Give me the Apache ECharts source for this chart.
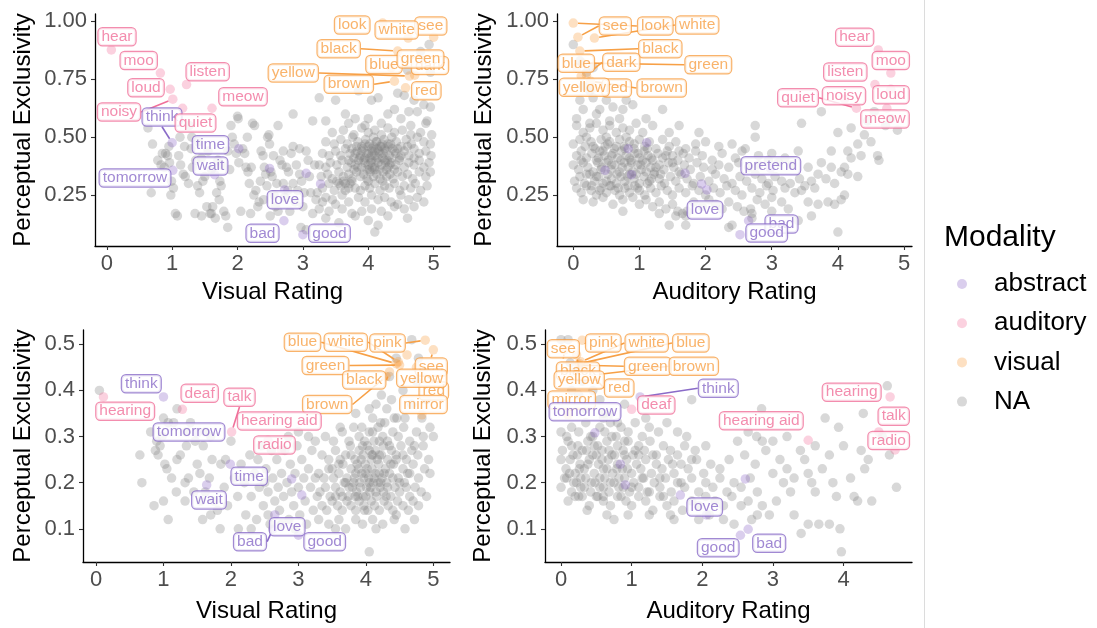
<!DOCTYPE html>
<html>
<head>
<meta charset="utf-8">
<script src="https://cdn.jsdelivr.net/npm/echarts@6/dist/echarts.min.js"></script>
<style>
  html, body { margin: 0; padding: 0; background: #ffffff; }
  #chart { width: 1097px; height: 628px; }
</style>
</head>
<body>
<div id="chart"></div>
<script>
// ---------- data ----------
// words with a modality: [word, visual rating, auditory rating, perceptual exclusivity]
const upperAbstract = [
  ['think', 1.00, 1.11, 0.476], ['time', 2.02, 0.83, 0.450], ['wait', 1.65, 0.88, 0.338],
  ['tomorrow', 1.01, 0.48, 0.357], ['pretend', 2.49, 2.98, 0.365], ['love', 2.72, 2.02, 0.272],
  ['bad', 2.71, 2.65, 0.139], ['good', 3.00, 2.52, 0.079], ['', 3.05, 1.69, 0.344], ['', 3.27, 1.94, 0.298]
];
const upperAuditory = [
  ['hear', 0.07, 4.61, 0.877], ['moo', 0.82, 4.80, 0.777], ['listen', 1.22, 4.56, 0.727],
  ['loud', 0.97, 4.80, 0.707], ['noisy', 1.01, 4.10, 0.664], ['quiet', 1.16, 4.28, 0.625],
  ['meow', 1.61, 4.74, 0.625]
];
const upperVisual = [
  ['look', 4.22, 0.00, 0.993], ['see', 5.00, 0.07, 0.932], ['white', 4.61, 0.32, 0.928],
  ['black', 4.45, 0.10, 0.872], ['blue', 4.35, 0.05, 0.800], ['dark', 4.71, 0.20, 0.768],
  ['green', 4.75, 0.14, 0.820], ['red', 4.57, 0.30, 0.713], ['yellow', 4.63, 0.12, 0.764],
  ['brown', 4.40, 0.26, 0.742]
];
const lowerAbstract = [
  ['think', 1.00, 1.12, 0.386], ['tomorrow', 1.50, 0.48, 0.308], ['time', 1.99, 0.84, 0.240],
  ['wait', 1.64, 0.91, 0.195], ['love', 2.65, 2.06, 0.130], ['bad', 2.62, 2.65, 0.099],
  ['good', 3.00, 2.54, 0.086], ['', 3.05, 1.69, 0.173], ['', 2.90, 2.61, 0.208]
];
const lowerAuditory = [
  ['hearing', 0.11, 4.66, 0.386], ['deaf', 1.28, 1.00, 0.359], ['talk', 2.01, 4.50, 0.310],
  ['hearing aid', 2.55, 3.50, 0.292], ['radio', 2.75, 4.73, 0.271]
];
const lowerVisual = [
  ['pink', 4.88, 0.30, 0.509], ['see', 5.00, 0.05, 0.488], ['white', 4.48, 0.28, 0.462],
  ['blue', 4.45, 0.26, 0.458], ['green', 4.50, 0.25, 0.455], ['red', 4.75, 0.35, 0.450],
  ['black', 4.35, 0.15, 0.440], ['brown', 4.30, 0.27, 0.430], ['yellow', 4.61, 0.22, 0.477],
  ['mirror', 4.83, 0.10, 0.347]
];

// words without a modality: [rating, perceptual exclusivity]
const upperNAVisual = [
  [4.93,0.90],[4.80,0.87],[4.85,0.83],[4.60,0.79],[4.95,0.78],[4.45,0.69],[4.55,0.68],[4.70,0.66],[4.85,0.64],[4.95,0.63],
  [3.25,0.67],[3.50,0.66],[4.05,0.66],[4.15,0.67],[3.85,0.70],[4.40,0.62],[4.62,0.61],[4.75,0.61],[4.30,0.60],[3.65,0.60],
  [3.80,0.58],[2.85,0.60],[3.15,0.57],[3.35,0.57],[4.00,0.58],[4.50,0.58],[4.88,0.56],[3.70,0.56],[3.95,0.55],[4.20,0.56],
  [4.65,0.55],[2.62,0.55],[2.48,0.51],[4.90,0.57],
  [0.63,0.54],[0.70,0.47],[0.68,0.26],[0.83,0.38],[0.85,0.43],[0.90,0.43],[0.93,0.42],[0.96,0.39],[0.99,0.31],[1.02,0.28],
  [0.98,0.25],[1.05,0.17],[1.08,0.16],[1.10,0.42],[1.13,0.38],[1.17,0.34],[1.20,0.33],[1.19,0.46],[1.26,0.55],[1.29,0.45],
  [1.31,0.37],[1.36,0.40],[1.39,0.29],[1.42,0.26],[1.45,0.41],[1.50,0.33],[1.53,0.20],[1.58,0.17],[1.62,0.20],[1.66,0.15],
  [1.68,0.26],[1.70,0.40],[1.73,0.31],[1.75,0.29],[1.79,0.18],[1.82,0.16],[1.85,0.11],[1.90,0.55],[1.92,0.50],[1.95,0.47],
  [1.98,0.43],[2.00,0.59],[2.01,0.58],[1.88,0.36],[1.60,0.36],[1.40,0.48],[1.55,0.44],[0.88,0.37],[1.12,0.50],[1.30,0.50],
  [1.47,0.31],[1.85,0.44],[1.72,0.23],[1.25,0.30],[0.95,0.46],[0.78,0.40],[1.35,0.17],[1.45,0.16],[1.60,0.17],[1.75,0.38],
  [2.02,0.39],[2.05,0.18],[2.08,0.45],[2.11,0.43],[2.13,0.37],[2.16,0.35],[2.18,0.30],[2.21,0.37],[2.23,0.56],[2.26,0.55],
  [2.20,0.17],[2.28,0.27],[2.31,0.20],[2.33,0.22],[2.36,0.44],[2.39,0.42],[2.41,0.37],[2.43,0.34],[2.46,0.50],[2.49,0.47],
  [2.51,0.35],[2.53,0.33],[2.56,0.25],[2.58,0.20],[2.60,0.30],[2.65,0.40],[2.68,0.38],[2.70,0.30],[2.72,0.24],[2.75,0.37],
  [2.78,0.35],[2.80,0.18],[2.82,0.43],[2.85,0.46],[2.90,0.38],[2.92,0.27],[2.95,0.34],[2.98,0.31],[2.97,0.11],[3.02,0.26],
  [3.05,0.44],[3.08,0.40],[3.10,0.33],[3.12,0.26],[3.18,0.38],[3.20,0.23],[2.40,0.23],[2.50,0.16],[2.62,0.18],[2.45,0.29],
  [2.70,0.44],[2.88,0.22],[3.00,0.20],[2.35,0.31],[2.55,0.42],[2.95,0.45],[3.15,0.17],[2.25,0.25],[2.15,0.50],[2.85,0.30],
  [3.05,0.10],[2.77,0.27],
  [3.35,0.15],[3.55,0.13],[4.00,0.14],[4.30,0.16],[4.60,0.15],[3.80,0.16],[4.15,0.12],[4.10,0.09],
  [3.25,0.19],[3.40,0.18],[3.60,0.19],[3.75,0.17],[3.90,0.18],[4.05,0.19],[4.20,0.18],[4.40,0.20],[4.55,0.19],[4.70,0.20],
  [3.50,0.21],[3.30,0.22],
  [3.35,0.24],[3.45,0.23],[3.60,0.25],[3.70,0.22],[3.85,0.24],[3.95,0.22],[4.05,0.25],[4.15,0.23],[4.25,0.24],[4.35,0.22],
  [4.50,0.25],[4.62,0.23],[4.75,0.24],[4.85,0.22],[3.22,0.26],[4.45,0.21],
  [3.30,0.28],[3.40,0.30],[3.48,0.27],[3.58,0.29],[3.65,0.27],[3.72,0.30],[3.80,0.28],[3.88,0.27],[3.95,0.29],[4.02,0.28],
  [4.10,0.30],[4.18,0.27],[4.25,0.29],[4.32,0.28],[4.40,0.30],[4.48,0.27],[4.55,0.29],[4.65,0.28],[4.72,0.30],[4.80,0.27],
  [4.90,0.29],[3.62,0.31],[4.00,0.31],[4.22,0.31],
  [3.28,0.33],[3.38,0.34],[3.45,0.32],[3.55,0.35],[3.62,0.33],[3.70,0.34],[3.75,0.32],[3.82,0.35],[3.88,0.33],[3.93,0.34],
  [3.98,0.32],[4.03,0.35],[4.08,0.33],[4.13,0.34],[4.18,0.32],[4.23,0.35],[4.28,0.33],[4.33,0.34],[4.38,0.32],[4.45,0.35],
  [4.52,0.33],[4.60,0.34],[4.68,0.32],[4.78,0.35],[4.88,0.33],[4.95,0.35],[3.52,0.31],[4.10,0.36],
  [3.25,0.38],[3.35,0.37],[3.42,0.39],[3.52,0.38],[3.60,0.40],[3.68,0.37],[3.74,0.39],[3.80,0.38],[3.85,0.40],[3.90,0.37],
  [3.95,0.39],[4.00,0.38],[4.05,0.40],[4.10,0.37],[4.15,0.39],[4.20,0.38],[4.25,0.40],[4.30,0.37],[4.35,0.39],[4.42,0.38],
  [4.48,0.40],[4.55,0.37],[4.62,0.39],[4.70,0.38],[4.78,0.40],[4.85,0.37],[4.93,0.39],[3.78,0.36],[4.02,0.36],[4.28,0.36],
  [3.30,0.43],[3.40,0.42],[3.50,0.44],[3.58,0.42],[3.65,0.45],[3.72,0.43],[3.78,0.41],[3.83,0.44],[3.88,0.42],[3.92,0.45],
  [3.97,0.43],[4.02,0.41],[4.06,0.44],[4.10,0.42],[4.14,0.45],[4.18,0.43],[4.22,0.41],[4.27,0.44],[4.32,0.42],[4.37,0.45],
  [4.42,0.43],[4.48,0.41],[4.55,0.44],[4.62,0.42],[4.70,0.45],[4.78,0.43],[4.88,0.44],[4.96,0.42],[3.95,0.41],[4.20,0.46],
  [3.35,0.48],[3.48,0.47],[3.58,0.49],[3.68,0.47],[3.76,0.50],[3.84,0.48],[3.90,0.46],[3.96,0.49],[4.02,0.47],[4.08,0.50],
  [4.13,0.48],[4.18,0.46],[4.24,0.49],[4.30,0.47],[4.36,0.50],[4.43,0.48],[4.50,0.46],[4.58,0.49],[4.66,0.47],[4.75,0.50],
  [4.85,0.48],[4.95,0.47],[3.82,0.46],[4.05,0.45],
  [3.45,0.52],[3.62,0.53],[3.78,0.51],[3.90,0.54],[4.00,0.52],[4.10,0.53],[4.20,0.51],[4.30,0.54],[4.40,0.52],[4.52,0.53],
  [4.65,0.51],[4.80,0.52],[4.97,0.51],
  [3.87,0.41],[3.93,0.40],[4.00,0.43],[4.04,0.39],[4.08,0.46],[4.12,0.40],[4.16,0.44],[4.21,0.47],[4.26,0.39],[4.31,0.46],
  [4.36,0.41],[4.40,0.36],[3.84,0.37],[3.90,0.44],[3.98,0.36],[4.06,0.37],[4.12,0.48],[4.17,0.36],[4.23,0.43],[4.29,0.40],
  [4.34,0.47],[4.40,0.44],[3.80,0.43],[3.95,0.47],[4.05,0.42],[4.15,0.41],[4.25,0.45],[4.33,0.38],[3.70,0.40],[3.75,0.45],
  [4.45,0.45],[4.50,0.42],[3.65,0.30],[3.70,0.28],[3.75,0.31],[3.55,0.30],[4.60,0.46],[4.70,0.41],[4.10,0.44],[4.00,0.46]
];
const upperNAAuditory = [
  [0.00,0.90],[0.10,0.83],[0.20,0.78],[0.30,0.80],[0.15,0.72],[0.25,0.70],[0.30,0.67],[0.10,0.66],[0.40,0.62],[0.50,0.66],
  [0.05,0.58],[0.15,0.62],[0.35,0.60],[0.60,0.63],[0.70,0.58],[0.75,0.62],[0.80,0.66],[0.90,0.64],[1.10,0.58],[1.35,0.62],
  [0.55,0.57],[0.25,0.56],
  [0.05,0.55],[0.15,0.52],[0.25,0.54],[0.35,0.56],[0.45,0.53],[0.55,0.55],[0.65,0.52],[0.75,0.54],[0.85,0.53],[0.95,0.56],
  [1.05,0.52],[1.20,0.55],[1.45,0.52],[1.60,0.55],[0.20,0.50],[0.50,0.50],[0.80,0.50],[1.90,0.52],
  [0.00,0.47],[0.10,0.49],[0.18,0.46],[0.27,0.48],[0.33,0.45],[0.42,0.49],[0.48,0.46],[0.55,0.48],[0.62,0.45],[0.70,0.49],
  [0.77,0.46],[0.85,0.48],[0.92,0.45],[1.00,0.49],[1.08,0.46],[1.15,0.48],[1.25,0.45],[1.35,0.49],[1.45,0.46],[1.55,0.48],
  [1.70,0.45],[1.85,0.47],[2.00,0.48],[2.20,0.46],[2.40,0.47],[2.60,0.45],[2.75,0.50],
  [0.05,0.42],[0.12,0.44],[0.20,0.41],[0.28,0.43],[0.35,0.40],[0.40,0.44],[0.47,0.42],[0.53,0.40],[0.60,0.43],[0.67,0.41],
  [0.73,0.44],[0.80,0.42],[0.87,0.40],[0.93,0.43],[1.00,0.41],[1.07,0.44],[1.13,0.42],[1.20,0.40],[1.28,0.43],[1.35,0.41],
  [1.42,0.44],[1.50,0.42],[1.58,0.40],[1.66,0.43],[1.75,0.41],[1.85,0.44],[1.95,0.42],[2.10,0.40],[2.25,0.43],[2.45,0.41],
  [2.55,0.44],[2.80,0.42],[3.00,0.43],[3.20,0.41],[3.40,0.44],
  [0.00,0.38],[0.08,0.36],[0.15,0.39],[0.22,0.37],[0.30,0.35],[0.37,0.39],[0.43,0.37],[0.50,0.39],[0.57,0.36],[0.63,0.38],
  [0.70,0.35],[0.77,0.39],[0.83,0.37],[0.90,0.35],[0.97,0.38],[1.03,0.36],[1.10,0.39],[1.17,0.37],[1.23,0.35],[1.30,0.38],
  [1.37,0.36],[1.44,0.39],[1.52,0.37],[1.60,0.35],[1.68,0.38],[1.77,0.36],[1.87,0.39],[1.97,0.37],[2.10,0.36],[2.20,0.38],
  [2.35,0.37],[2.50,0.39],[2.65,0.37],[2.80,0.38],[2.95,0.40],[3.10,0.39],[3.30,0.38],[3.55,0.37],[3.75,0.39],[3.90,0.37],
  [0.02,0.31],[0.10,0.33],[0.17,0.30],[0.25,0.34],[0.32,0.31],[0.38,0.33],[0.45,0.30],[0.52,0.34],[0.58,0.32],[0.65,0.30],
  [0.72,0.33],[0.78,0.31],[0.85,0.34],[0.92,0.32],[1.00,0.30],[1.07,0.33],[1.15,0.31],[1.22,0.34],[1.30,0.32],[1.38,0.30],
  [1.47,0.33],[1.55,0.31],[1.63,0.34],[1.72,0.32],[1.82,0.30],[1.92,0.33],[2.05,0.31],[2.15,0.34],[2.28,0.32],[2.40,0.30],
  [2.52,0.33],[2.62,0.31],[2.75,0.34],[2.85,0.32],[2.95,0.30],[3.05,0.33],[3.15,0.31],[3.28,0.30],[3.42,0.32],[3.50,0.29],
  [3.60,0.31],[3.70,0.34],[3.82,0.32],[3.95,0.30],[4.05,0.35],[4.15,0.34],[4.30,0.33],
  [0.05,0.28],[0.12,0.26],[0.20,0.29],[0.27,0.27],[0.35,0.25],[0.42,0.28],[0.50,0.26],[0.57,0.29],[0.63,0.27],[0.70,0.25],
  [0.78,0.28],[0.85,0.26],[0.93,0.29],[1.00,0.27],[1.08,0.25],[1.17,0.28],[1.25,0.26],[1.33,0.29],[1.42,0.27],[1.50,0.25],
  [1.60,0.28],[1.70,0.26],[1.80,0.29],[1.90,0.27],[2.00,0.25],[2.12,0.28],[2.22,0.26],[2.32,0.29],[2.45,0.27],[2.55,0.25],
  [2.70,0.28],[2.82,0.26],[2.92,0.29],[3.02,0.27],[3.20,0.28],[3.35,0.26],[3.45,0.27],[3.65,0.28],[4.10,0.25],
  [0.15,0.23],[0.30,0.22],[0.45,0.24],[0.60,0.21],[0.75,0.23],[0.90,0.24],[1.00,0.21],[1.10,0.23],[1.20,0.20],[1.30,0.22],
  [1.40,0.19],[1.50,0.21],[1.58,0.18],[1.65,0.17],[1.72,0.18],[1.82,0.22],[1.95,0.20],[2.05,0.23],[2.15,0.21],[2.25,0.19],
  [2.35,0.22],[2.48,0.20],[2.58,0.18],[2.68,0.19],[2.78,0.23],[2.90,0.21],[3.00,0.24],[3.15,0.22],[3.55,0.22],[3.70,0.21],
  [3.85,0.22],[3.95,0.21],[4.05,0.23],[0.75,0.18],[1.30,0.17],[1.70,0.16],[1.55,0.16],
  [1.45,0.12],[1.70,0.12],[2.35,0.11],[2.40,0.12],[2.70,0.17],[2.70,0.15],[3.00,0.18],[3.25,0.19],[3.60,0.16],[4.00,0.09],
  [3.40,0.14],
  [4.00,0.52],[4.20,0.54],[4.30,0.47],[4.40,0.51],[4.50,0.48],[4.60,0.42],[4.62,0.40],[4.35,0.42],[4.20,0.41],[4.90,0.53],
  [4.72,0.55],[4.80,0.58],[3.75,0.61],[3.45,0.56],[2.75,0.55],[3.90,0.44],[4.10,0.37],[4.15,0.44],[4.55,0.61],[4.45,0.57],
  [0.30,0.46],[0.38,0.41],[0.45,0.44],[0.52,0.47],[0.58,0.42],[0.65,0.46],[0.72,0.40],[0.78,0.45],[0.85,0.41],[0.92,0.47],
  [0.98,0.43],[1.05,0.40],[1.12,0.45],[1.18,0.41],[0.35,0.33],[0.42,0.36],[0.50,0.31],[0.58,0.38],[0.66,0.34],[0.74,0.37],
  [0.82,0.33],[0.88,0.39],[0.95,0.34],[1.02,0.38],[1.10,0.35],[1.18,0.32],[1.25,0.37],[1.32,0.34],[0.28,0.29],[0.40,0.27],
  [0.55,0.29],[0.68,0.28],[0.83,0.29],[0.97,0.28],[1.12,0.30],[1.40,0.42],[1.50,0.39],[1.60,0.44],[0.20,0.34],[0.12,0.40]
];
const lowerNAVisual = [
  [0.05,0.40],[0.81,0.31],[0.90,0.29],[1.00,0.34],[1.07,0.33],[1.20,0.36],[1.15,0.33],[0.65,0.26],[0.88,0.27],[0.95,0.28],
  [0.92,0.26],[1.02,0.24],[1.05,0.23],[1.25,0.26],[1.34,0.28],[1.59,0.28],[1.34,0.31],[1.47,0.29],[1.62,0.31],[1.70,0.30],
  [0.68,0.20],[0.86,0.15],[1.00,0.16],[1.07,0.12],[1.32,0.16],[1.19,0.18],[1.32,0.20],[1.54,0.22],[1.58,0.12],[1.70,0.13],
  [1.84,0.10],[2.11,0.10],[1.37,0.21],[1.45,0.18],[1.55,0.16],[1.62,0.18],[1.68,0.21],[1.75,0.16],[1.80,0.14],[1.90,0.19],
  [1.95,0.15],[1.85,0.24],[1.92,0.25],[2.00,0.29],[1.50,0.24],[1.12,0.21],[1.20,0.25],[0.98,0.30],[1.40,0.33],[1.72,0.25],
  [2.05,0.21],[2.10,0.17],[2.15,0.24],[2.20,0.20],[2.22,0.13],[2.28,0.26],[2.30,0.17],[2.35,0.22],[2.38,0.12],[2.42,0.19],
  [2.45,0.28],[2.48,0.15],[2.52,0.23],[2.55,0.18],[2.58,0.11],[2.62,0.21],[2.65,0.16],[2.68,0.25],[2.70,0.19],[2.72,0.14],
  [2.75,0.22],[2.78,0.17],[2.80,0.27],[2.83,0.20],[2.86,0.12],[2.88,0.24],[2.90,0.18],[2.93,0.15],[2.95,0.22],[2.98,0.28],
  [3.00,0.19],[3.02,0.13],[3.05,0.25],[3.08,0.21],[3.10,0.16],[3.12,0.11],[3.15,0.23],[3.18,0.19],[3.20,0.27],[3.22,0.14],
  [3.25,0.21],[3.28,0.17],[2.40,0.25],[2.60,0.27],[2.85,0.30],[3.00,0.31],[2.30,0.10],[2.55,0.13],[2.75,0.11],[3.15,0.30],
  [2.50,0.20],[2.95,0.10],
  [3.30,0.12],[3.45,0.11],[3.60,0.12],[3.70,0.10],[3.85,0.12],[3.95,0.11],[4.05,0.05],[4.10,0.12],[4.25,0.11],[4.42,0.12],
  [4.58,0.10],[4.72,0.12],[3.55,0.10],[4.15,0.10],
  [3.35,0.15],[3.42,0.14],[3.50,0.16],[3.58,0.15],[3.65,0.14],[3.72,0.16],[3.78,0.15],[3.85,0.14],[3.90,0.16],[3.97,0.15],
  [4.03,0.14],[4.08,0.16],[4.13,0.15],[4.20,0.14],[4.27,0.16],[4.33,0.15],[4.40,0.14],[4.47,0.16],[4.55,0.15],[4.63,0.14],
  [4.70,0.16],[4.78,0.15],[4.45,0.13],
  [3.32,0.18],[3.40,0.19],[3.47,0.17],[3.55,0.19],[3.62,0.18],[3.68,0.20],[3.74,0.17],[3.80,0.19],[3.86,0.18],[3.91,0.20],
  [3.96,0.17],[4.01,0.19],[4.06,0.18],[4.11,0.20],[4.16,0.17],[4.21,0.19],[4.26,0.18],[4.31,0.20],[4.37,0.17],[4.43,0.19],
  [4.50,0.18],[4.57,0.20],[4.65,0.17],[4.73,0.19],[4.82,0.18],[4.90,0.17],[3.88,0.17],[4.05,0.20],[4.18,0.20],[3.75,0.19],
  [3.30,0.22],[3.38,0.21],[3.45,0.23],[3.52,0.21],[3.60,0.22],[3.66,0.24],[3.72,0.21],[3.78,0.23],[3.83,0.21],[3.89,0.23],
  [3.94,0.22],[3.99,0.24],[4.04,0.21],[4.09,0.23],[4.14,0.22],[4.19,0.24],[4.24,0.21],[4.29,0.23],[4.35,0.22],[4.41,0.24],
  [4.48,0.21],[4.55,0.23],[4.62,0.22],[4.70,0.24],[4.78,0.21],[4.87,0.23],[4.95,0.22],[4.00,0.22],[4.20,0.22],[3.85,0.22],
  [3.35,0.26],[3.45,0.25],[3.55,0.27],[3.62,0.25],[3.70,0.26],[3.77,0.28],[3.84,0.25],[3.90,0.27],[3.96,0.26],[4.02,0.28],
  [4.08,0.25],[4.14,0.27],[4.20,0.26],[4.26,0.28],[4.32,0.25],[4.38,0.27],[4.45,0.26],[4.52,0.28],[4.60,0.25],[4.68,0.27],
  [4.77,0.26],[4.85,0.28],[4.93,0.25],[4.10,0.26],
  [3.40,0.30],[3.52,0.29],[3.65,0.31],[3.75,0.29],[3.82,0.32],[3.90,0.30],[3.98,0.29],[4.05,0.31],[4.12,0.29],[4.18,0.32],
  [4.25,0.30],[4.32,0.29],[4.40,0.31],[4.48,0.30],[4.56,0.32],[4.65,0.29],[4.75,0.31],[4.85,0.30],[4.95,0.32],[3.25,0.29],
  [4.22,0.33],
  [3.62,0.32],[3.94,0.32],[4.23,0.39],[4.38,0.38],[4.31,0.36],[4.46,0.34],[4.58,0.34],[4.83,0.34],[5.00,0.30],[4.10,0.34],
  [4.68,0.37],[4.15,0.37],[4.55,0.40],[4.90,0.38],[4.05,0.36],[3.85,0.35],[4.75,0.42],[4.35,0.43],[4.68,0.51],[4.78,0.47],
  [4.85,0.44],[4.45,0.47],
  [3.82,0.20],[3.87,0.24],[3.92,0.19],[3.97,0.21],[4.02,0.23],[4.07,0.19],[4.12,0.21],[4.17,0.25],[4.22,0.20],[4.27,0.22],
  [4.32,0.19],[4.37,0.24],[3.84,0.17],[3.93,0.25],[4.00,0.17],[4.09,0.26],[4.15,0.18],[4.23,0.26],[4.30,0.17],[4.40,0.21],
  [3.78,0.26],[3.70,0.20],[3.65,0.17],[3.60,0.24],[4.45,0.25],[4.50,0.20],[4.55,0.26],[4.60,0.19],[3.95,0.28],[4.05,0.27],
  [4.20,0.29],[4.35,0.28],[4.10,0.31],[4.28,0.33],[4.42,0.34],[3.55,0.17],[3.50,0.23],[4.65,0.22],[4.72,0.28],[3.98,0.14]
];
const lowerNAAuditory = [
  [0.00,0.51],[0.10,0.51],[0.13,0.46],[0.20,0.44],[0.30,0.42],[0.15,0.40],[0.25,0.39],[0.45,0.40],[0.55,0.38],[0.05,0.37],
  [0.35,0.36],[0.60,0.35],[0.70,0.35],[0.90,0.37],[1.85,0.38],[0.80,0.33],
  [0.00,0.31],[0.08,0.30],[0.15,0.32],[0.25,0.31],[0.35,0.33],[0.45,0.30],[0.55,0.32],[0.62,0.31],[0.70,0.33],[0.78,0.30],
  [0.85,0.32],[0.95,0.31],[1.05,0.33],[1.15,0.30],[1.25,0.32],[1.38,0.31],[1.50,0.33],[1.65,0.31],[1.78,0.30],[1.20,0.34],
  [0.60,0.34],
  [0.02,0.27],[0.10,0.29],[0.17,0.26],[0.24,0.28],[0.30,0.27],[0.38,0.29],[0.45,0.26],[0.52,0.28],[0.58,0.27],[0.65,0.29],
  [0.72,0.26],[0.80,0.28],[0.88,0.27],[0.95,0.29],[1.02,0.26],[1.10,0.28],[1.18,0.27],[1.26,0.29],[1.35,0.26],[1.45,0.28],
  [1.55,0.27],[1.65,0.26],[1.75,0.28],[1.90,0.27],[2.05,0.28],
  [0.00,0.25],[0.07,0.23],[0.13,0.25],[0.20,0.22],[0.27,0.24],[0.33,0.23],[0.40,0.25],[0.47,0.22],[0.53,0.24],[0.60,0.23],
  [0.67,0.25],[0.73,0.22],[0.80,0.24],[0.87,0.23],[0.93,0.25],[1.00,0.22],[1.07,0.24],[1.13,0.23],[1.20,0.25],[1.28,0.22],
  [1.35,0.24],[1.43,0.23],[1.52,0.25],[1.60,0.22],[1.70,0.24],[1.80,0.23],[1.92,0.25],[2.02,0.22],[2.12,0.24],[2.25,0.23],
  [2.38,0.25],[0.90,0.26],[1.10,0.26],
  [0.00,0.19],[0.08,0.21],[0.15,0.18],[0.22,0.20],[0.28,0.19],[0.35,0.21],[0.42,0.18],[0.48,0.20],[0.55,0.19],[0.62,0.21],
  [0.68,0.18],[0.75,0.20],[0.82,0.19],[0.90,0.21],[0.97,0.18],[1.03,0.20],[1.10,0.19],[1.17,0.21],[1.25,0.18],[1.32,0.20],
  [1.40,0.19],[1.48,0.21],[1.56,0.18],[1.65,0.20],[1.75,0.19],[1.85,0.21],[1.95,0.18],[2.05,0.20],[2.15,0.19],[2.25,0.21],
  [2.35,0.18],[2.45,0.20],[2.55,0.19],[2.68,0.21],[2.78,0.18],[0.30,0.17],[0.60,0.17],
  [0.10,0.16],[0.25,0.17],[0.40,0.15],[0.50,0.17],[0.60,0.16],[0.70,0.15],[0.80,0.17],[0.92,0.16],[1.00,0.15],[1.10,0.17],
  [1.20,0.16],[1.30,0.14],[1.40,0.17],[1.50,0.15],[1.60,0.16],[1.72,0.14],[1.85,0.16],[1.95,0.15],[2.05,0.17],[2.18,0.16],
  [2.30,0.15],[2.42,0.17],[2.55,0.15],[2.65,0.16],[2.85,0.15],
  [0.37,0.14],[0.65,0.13],[0.75,0.12],[1.25,0.13],[1.55,0.13],[1.60,0.12],[1.95,0.12],[2.10,0.13],[2.30,0.12],[2.45,0.11],
  [2.70,0.12],[2.78,0.13],[0.95,0.13],
  [2.50,0.29],[2.60,0.26],[2.75,0.24],[2.85,0.29],[2.90,0.27],[2.77,0.30],[2.84,0.36],[3.00,0.22],[3.10,0.25],[3.15,0.20],
  [3.20,0.23],[3.25,0.18],[3.30,0.21],[3.39,0.27],[3.45,0.25],[3.50,0.22],[3.55,0.20],[3.60,0.18],[3.70,0.23],[3.74,0.34],
  [3.80,0.26],[3.85,0.20],[3.90,0.17],[3.93,0.32],[4.00,0.28],[4.10,0.21],[4.20,0.16],[4.25,0.27],[4.28,0.35],[4.35,0.25],
  [4.40,0.16],[4.55,0.30],[4.62,0.41],[4.65,0.26],[4.75,0.19],[3.30,0.13],[3.50,0.11],[3.65,0.11],[3.80,0.11],[3.95,0.10],
  [3.97,0.05],[3.40,0.09],[3.05,0.16],[2.95,0.13],[4.15,0.17],[4.30,0.23],[3.60,0.28],[3.00,0.29],[2.65,0.31],[3.20,0.30],
  [0.12,0.22],[0.18,0.20],[0.23,0.26],[0.28,0.21],[0.33,0.19],[0.38,0.24],[0.43,0.20],[0.50,0.26],[0.55,0.21],[0.60,0.19],
  [0.65,0.23],[0.70,0.20],[0.76,0.26],[0.82,0.21],[0.88,0.19],[0.94,0.23],[1.00,0.19],[1.05,0.27],[0.20,0.17],[0.36,0.27],
  [0.52,0.17],[0.68,0.27],[0.85,0.17],[0.15,0.28],[0.42,0.30],[0.58,0.25],[0.72,0.30],[0.90,0.29],[1.15,0.21],[1.22,0.18],
  [1.30,0.26],[1.40,0.21],[1.45,0.17],[1.58,0.24],[1.70,0.20],[1.85,0.25],[0.05,0.21],[0.26,0.23],[0.47,0.28],[0.79,0.23]
];

// axis ticks
const ratingTicks = [0, 1, 2, 3, 4, 5];
const ratingTicksShort = [0, 1, 2, 3, 4];
const upperExclTicks = [0.25, 0.50, 0.75, 1.00];
const upperExclLabels = ['0.25', '0.50', '0.75', '1.00'];
const lowerExclTicks = [0.1, 0.2, 0.3, 0.4, 0.5];
const lowerExclLabels = ['0.1', '0.2', '0.3', '0.4', '0.5'];

const modalities = ['abstract', 'auditory', 'visual', 'NA'];

// ---------- styling ----------
const FONT = '"Liberation Sans", Arial, Helvetica, sans-serif';
const pointFill = {
  abstract: 'rgba(126,87,194,0.36)',
  auditory: 'rgba(240,98,146,0.36)',
  visual: 'rgba(247,148,44,0.36)',
  NA: 'rgba(127,127,127,0.38)'
};
const inkColor = { abstract: '#8a6bc8', auditory: '#f0709a', visual: '#f7a046' };
const DOT = 9.5;

// where each word's tag sits (pixel centre) and which tags keep a leader line
const tagSpots = [
  { // visual rating, upper set
    hear: [117, 36.7], moo: [138.7, 60.5], loud: [146, 87.8], noisy: [119, 112], listen: [207.7, 71.7],
    quiet: [195.5, 123], meow: [243, 96.7], think: [162, 117], time: [210.5, 144.7], wait: [210.5, 166],
    tomorrow: [135, 178], love: [285, 199.7], bad: [262.5, 233.3], good: [329.5, 233.3],
    look: [352.2, 25], white: [396.7, 30], see: [430.8, 26], black: [338.7, 48.8], green: [420.5, 59],
    blue: [384, 64.5], dark: [430, 65.5], yellow: [293.3, 73], brown: [348.8, 84.2], red: [426.3, 90.7]
  },
  { // auditory rating, upper set
    see: [615.3, 26], look: [655.3, 26], white: [697.2, 25], black: [660.3, 48.8], blue: [576.3, 63.3],
    dark: [621.3, 62.3], green: [708.3, 64.7], yellow: [584.3, 87.3], red: [616.7, 88], brown: [661.7, 88],
    hear: [854.7, 37.2], moo: [890.8, 60.5], listen: [845.3, 72], quiet: [798, 97.7], noisy: [844, 95.7],
    loud: [891, 94.7], meow: [885, 119], pretend: [770.8, 165.8], love: [705, 210], bad: [781.5, 224],
    good: [766.7, 233]
  },
  { // visual rating, lower set
    hearing: [125.2, 411.2], think: [141.3, 383.8], deaf: [199.7, 393.3], talk: [239.5, 397.2],
    'hearing aid': [279.3, 421], radio: [274.5, 445], tomorrow: [189, 432], time: [249.2, 476.3],
    wait: [209, 500], love: [287.2, 526.7], bad: [250, 541.7], good: [324.7, 541.7],
    blue: [302.5, 342.2], white: [345.8, 342.2], pink: [387.5, 343], green: [325.5, 365.5],
    black: [364.2, 380], yellow: [421.7, 378.3], see: [431.3, 367], red: [433.8, 391],
    mirror: [423.5, 404.5], brown: [327.2, 404.5]
  },
  { // auditory rating, lower set
    see: [563.3, 348.8], pink: [603.3, 343], white: [646.7, 343], blue: [690.8, 343], green: [647.8, 366.3],
    brown: [693.8, 366.3], black: [578, 371], yellow: [579.2, 380], red: [619.2, 388], mirror: [571.7, 400],
    tomorrow: [585, 411.7], think: [718.3, 388.3], deaf: [656.3, 405], hearing: [851.7, 392.2],
    talk: [893.7, 416.2], radio: [888.7, 440.5], 'hearing aid': [761.3, 420.7], love: [704.7, 507],
    good: [718.2, 547.7], bad: [769.2, 543.3]
  }
];
const tagLeaders = [
  ['noisy', 'think', 'black', 'yellow', 'brown'],
  ['see', 'look', 'white', 'black', 'blue', 'dark', 'green', 'red', 'brown', 'quiet'],
  ['blue', 'white', 'pink', 'green', 'black', 'brown', 'talk', 'bad', 'see', 'red'],
  ['see', 'pink', 'white', 'blue', 'green', 'brown', 'yellow', 'black', 'red', 'think', 'mirror']
];

// ---------- panels ----------
const panels = [
  { grid: { left: 95, top: 14, width: 355, height: 232 }, x: [-0.18, 5.25], y: [0.03, 1.032],
    xTicks: ratingTicks, yTicks: upperExclTicks, yLabels: upperExclLabels, xName: 'Visual Rating',
    words: { abstract: upperAbstract, auditory: upperAuditory, visual: upperVisual }, col: 1, na: upperNAVisual,
    yGap: 60, xGap: 34 },
  { grid: { left: 557, top: 14, width: 355, height: 232 }, x: [-0.246, 5.12], y: [0.03, 1.032],
    xTicks: ratingTicks, yTicks: upperExclTicks, yLabels: upperExclLabels, xName: 'Auditory Rating',
    words: { abstract: upperAbstract, auditory: upperAuditory, visual: upperVisual }, col: 2, na: upperNAAuditory,
    yGap: 61, xGap: 34 },
  { grid: { left: 83, top: 330, width: 367, height: 232 }, x: [-0.193, 5.247], y: [0.028, 0.531],
    xTicks: ratingTicks, yTicks: lowerExclTicks, yLabels: lowerExclLabels, xName: 'Visual Rating',
    words: { abstract: lowerAbstract, auditory: lowerAuditory, visual: lowerVisual }, col: 1, na: lowerNAVisual,
    yGap: 48, xGap: 37 },
  { grid: { left: 545, top: 330, width: 367, height: 232 }, x: [-0.227, 4.97], y: [0.028, 0.531],
    xTicks: ratingTicksShort, yTicks: lowerExclTicks, yLabels: lowerExclLabels, xName: 'Auditory Rating',
    words: { abstract: lowerAbstract, auditory: lowerAuditory, visual: lowerVisual }, col: 2, na: lowerNAAuditory,
    yGap: 50, xGap: 37 }
];

function tickText(ticks, labels) {
  return function (v) {
    for (let i = 0; i < ticks.length; i++) {
      if (Math.abs(ticks[i] - v) < 1e-9) return labels[i];
    }
    return '';
  };
}

const grids = [], xAxes = [], yAxes = [], series = [];

panels.forEach(function (p, i) {
  grids.push(Object.assign({ containLabel: false }, p.grid));
  const axisCommon = {
    gridIndex: i, type: 'value', splitLine: { show: false },
    axisLine: { show: true, onZero: false, lineStyle: { color: '#000', width: 1.3 } },
    axisTick: { show: true, length: 4, lineStyle: { color: '#333', width: 1.1 } },
    nameLocation: 'middle',
    nameTextStyle: { fontSize: 24, color: '#000', fontFamily: FONT }
  };
  xAxes.push(Object.assign({}, axisCommon, {
    min: p.x[0], max: p.x[1], name: p.xName, nameGap: p.xGap,
    axisTick: Object.assign({}, axisCommon.axisTick, { customValues: p.xTicks }),
    axisLabel: { customValues: p.xTicks, fontSize: 22, color: '#4d4d4d', fontFamily: FONT, margin: 7,
                 formatter: tickText(p.xTicks, p.xTicks.map(String)) }
  }));
  yAxes.push(Object.assign({}, axisCommon, {
    min: p.y[0], max: p.y[1], name: 'Perceptual Exclusivity', nameGap: p.yGap,
    axisTick: Object.assign({}, axisCommon.axisTick, { customValues: p.yTicks }),
    axisLabel: { customValues: p.yTicks, fontSize: 22, color: '#4d4d4d', fontFamily: FONT, margin: 8,
                 formatter: tickText(p.yTicks, p.yLabels) }
  }));

  // unclassified words first, underneath
  series.push({
    type: 'scatter', name: 'NA', xAxisIndex: i, yAxisIndex: i, symbolSize: DOT,
    itemStyle: { color: pointFill.NA }, data: p.na, silent: true, z: 2
  });

  const spots = tagSpots[i];
  const leaders = tagLeaders[i];
  ['visual', 'abstract', 'auditory'].forEach(function (m) {
    const data = p.words[m].map(function (r) {
      const item = { name: r[0], value: [r[p.col], r[3]] };
      if (r[0] && spots[r[0]]) {
        item.label = { show: true };
        item.labelLine = { show: leaders.indexOf(r[0]) >= 0 };
      }
      return item;
    });
    series.push({
      type: 'scatter', name: m, xAxisIndex: i, yAxisIndex: i, symbolSize: DOT, z: 3,
      itemStyle: { color: pointFill[m] },
      data: data,
      label: {
        show: false, formatter: '{b}', position: 'inside',
        color: inkColor[m], fontSize: 15.5, fontFamily: FONT, lineHeight: 14,
        backgroundColor: '#ffffff', borderColor: inkColor[m], borderWidth: 1.2, borderRadius: 4,
        padding: [2, 3, 1, 3]
      },
      labelLine: { show: false, length2: 0, lineStyle: { color: inkColor[m], width: 1.6 } },
      labelLayout: function (params) {
        const s = spots[params.text];
        if (!s) return {};
        return { x: s[0], y: s[1], align: 'center', verticalAlign: 'middle', hideOverlap: false };
      },
      emphasis: { disabled: true }
    });
  });
});

const chart = echarts.init(document.getElementById('chart'), null, { renderer: 'canvas' });
chart.setOption({
  animation: false,
  backgroundColor: '#ffffff',
  textStyle: { fontFamily: FONT },
  title: {
    text: 'Modality', left: 939, top: 218,
    textStyle: { fontSize: 30, fontWeight: 'normal', color: '#000', fontFamily: FONT }
  },
  legend: {
    data: modalities, orient: 'vertical', left: 952, top: 265,
    icon: 'circle', itemWidth: 10, itemHeight: 10, itemGap: 11.2, selectedMode: false,
    textStyle: { fontSize: 26, color: '#000', fontFamily: FONT, lineHeight: 28, padding: [0, 0, 0, 22] }
  },
  graphic: [{
    type: 'line', shape: { x1: 924.5, y1: 0, x2: 924.5, y2: 628 },
    style: { stroke: '#dcdcdc', lineWidth: 1 }, silent: true
  }],
  grid: grids,
  xAxis: xAxes,
  yAxis: yAxes,
  series: series
});
</script>
</body>
</html>
